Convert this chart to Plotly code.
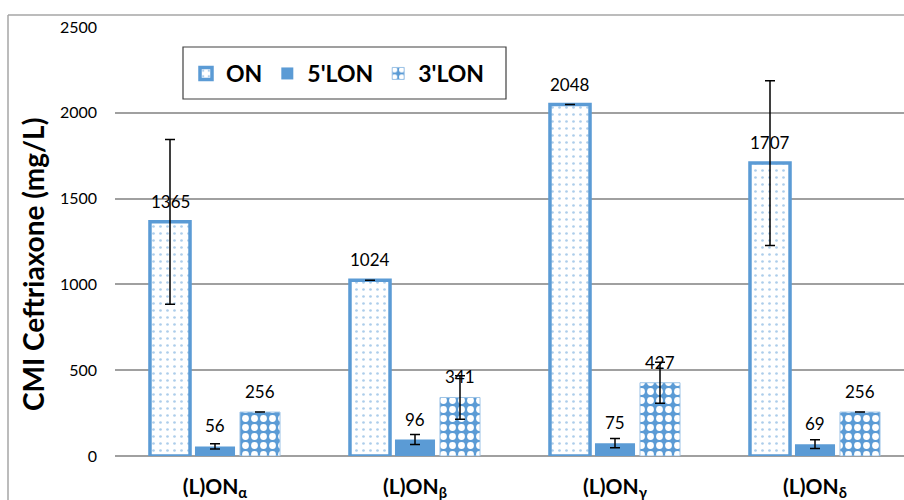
import plotly.graph_objects as go

categories = ["(L)ON<sub>α</sub>", "(L)ON<sub>β</sub>", "(L)ON<sub>γ</sub>", "(L)ON<sub>δ</sub>"]
series_names = ["ON", "5'LON", "3'LON"]
on_vals = [1365, 1024, 2048, 1707]
on_err = [480, 0, 0, 480]
lon5_vals = [56, 96, 75, 69]
lon5_err = [15, 29, 27, 25]
lon3_vals = [256, 341, 427, 256]
lon3_err = [0, 127, 120, 0]
yticks = [0, 500, 1000, 1500, 2000, 2500]
y_title = "CMI Ceftriaxone (mg/L)"

BLUE = "#5b9bd5"
FONT = "Lato"

def err(vals):
    return dict(type="data", array=vals, visible=True, color="black", thickness=1.5, width=5)

fig = go.Figure()
fig.add_trace(go.Bar(
    name=series_names[0], x=categories, y=on_vals, error_y=err(on_err),
    marker=dict(color="white", line=dict(color=BLUE, width=3.5),
                pattern=dict(shape=".", fgcolor=BLUE, bgcolor="white", size=7, solidity=0.12)),
))
fig.add_trace(go.Bar(
    name=series_names[1], x=categories, y=lon5_vals, error_y=err(lon5_err),
    marker=dict(color=BLUE, line=dict(color=BLUE, width=0)),
))
fig.add_trace(go.Bar(
    name=series_names[2], x=categories, y=lon3_vals, error_y=err(lon3_err),
    marker=dict(color=BLUE, line=dict(color="#9dc3e6", width=1),
                pattern=dict(shape=".", fgcolor="white", bgcolor=BLUE, size=9, solidity=0.45,
                             fillmode="replace")),
))
fig.update_traces(hoverinfo="skip")

px_l, px_t, px_b = 115, 27, 44
plot_w, plot_h = 904 - px_l, 500 - px_t - px_b

def px_x(p):
    return (p - px_l) / plot_w

def px_y(p):
    return (500 - px_b - p) / plot_h

# data labels above each bar (series offset within group in pixels)
annotations = []
for offset, vals in zip([-45, 0, 45], [on_vals, lon5_vals, lon3_vals]):
    for cat, v in zip(categories, vals):
        annotations.append(dict(
            x=cat, y=v, xref="x", yref="y", text=str(v), showarrow=False,
            xanchor="center", yanchor="bottom", xshift=offset, yshift=8,
            font=dict(family=FONT, size=17, color="black")))

annotations.append(dict(
    text=y_title, xref="paper", yref="paper", x=px_x(33), y=px_y(265),
    textangle=-90, showarrow=False, xanchor="center", yanchor="middle",
    font=dict(family=FONT, size=28, color="black", weight="bold")))

fig.update_layout(
    width=904, height=500,
    margin=dict(l=px_l, r=0, t=px_t, b=px_b, autoexpand=False),
    paper_bgcolor="white", plot_bgcolor="white",
    barmode="group", bargap=0.325, bargroupgap=0.11,
    font=dict(family=FONT, color="black"),
    showlegend=True,
    legend=dict(orientation="h", x=px_x(186), y=px_y(52),
                xanchor="left", yanchor="top",
                borderwidth=0, bgcolor="rgba(0,0,0,0)",
                font=dict(family=FONT, size=23, color="black", weight="bold"),
                itemwidth=30),
    xaxis=dict(range=[-0.5, 3.445], showgrid=False, showline=False, ticks="", automargin=False,
               tickfont=dict(family=FONT, size=21, color="black", weight="bold"),
               ticklabelstandoff=16),
    yaxis=dict(range=[0, 2500], tickvals=yticks, showgrid=True, gridcolor="#a0a0a0", gridwidth=1.5,
               zeroline=True, zerolinecolor="#a0a0a0", zerolinewidth=1.5, showline=False,
               automargin=False,
               tickfont=dict(family=FONT, size=16, color="black"), ticklabelstandoff=17),
    annotations=annotations,
    shapes=[
        dict(type="line", xref="paper", yref="paper", x0=px_x(8), x1=px_x(8),
             y0=px_y(15), y1=-0.3, line=dict(color="#a6a6a6", width=1.5)),
        dict(type="line", xref="paper", yref="paper", x0=px_x(8), x1=1.1,
             y0=px_y(15), y1=px_y(15), line=dict(color="#a6a6a6", width=1.5)),
        dict(type="rect", xref="paper", yref="paper", x0=px_x(183), x1=px_x(506),
             y0=px_y(99), y1=px_y(47), line=dict(color="#404040", width=1.2),
             fillcolor="white", layer="below"),
    ],
)

fig.write_html("out.html", config={"displayModeBar": False},
               post_script="document.body.style.margin='0px';")
